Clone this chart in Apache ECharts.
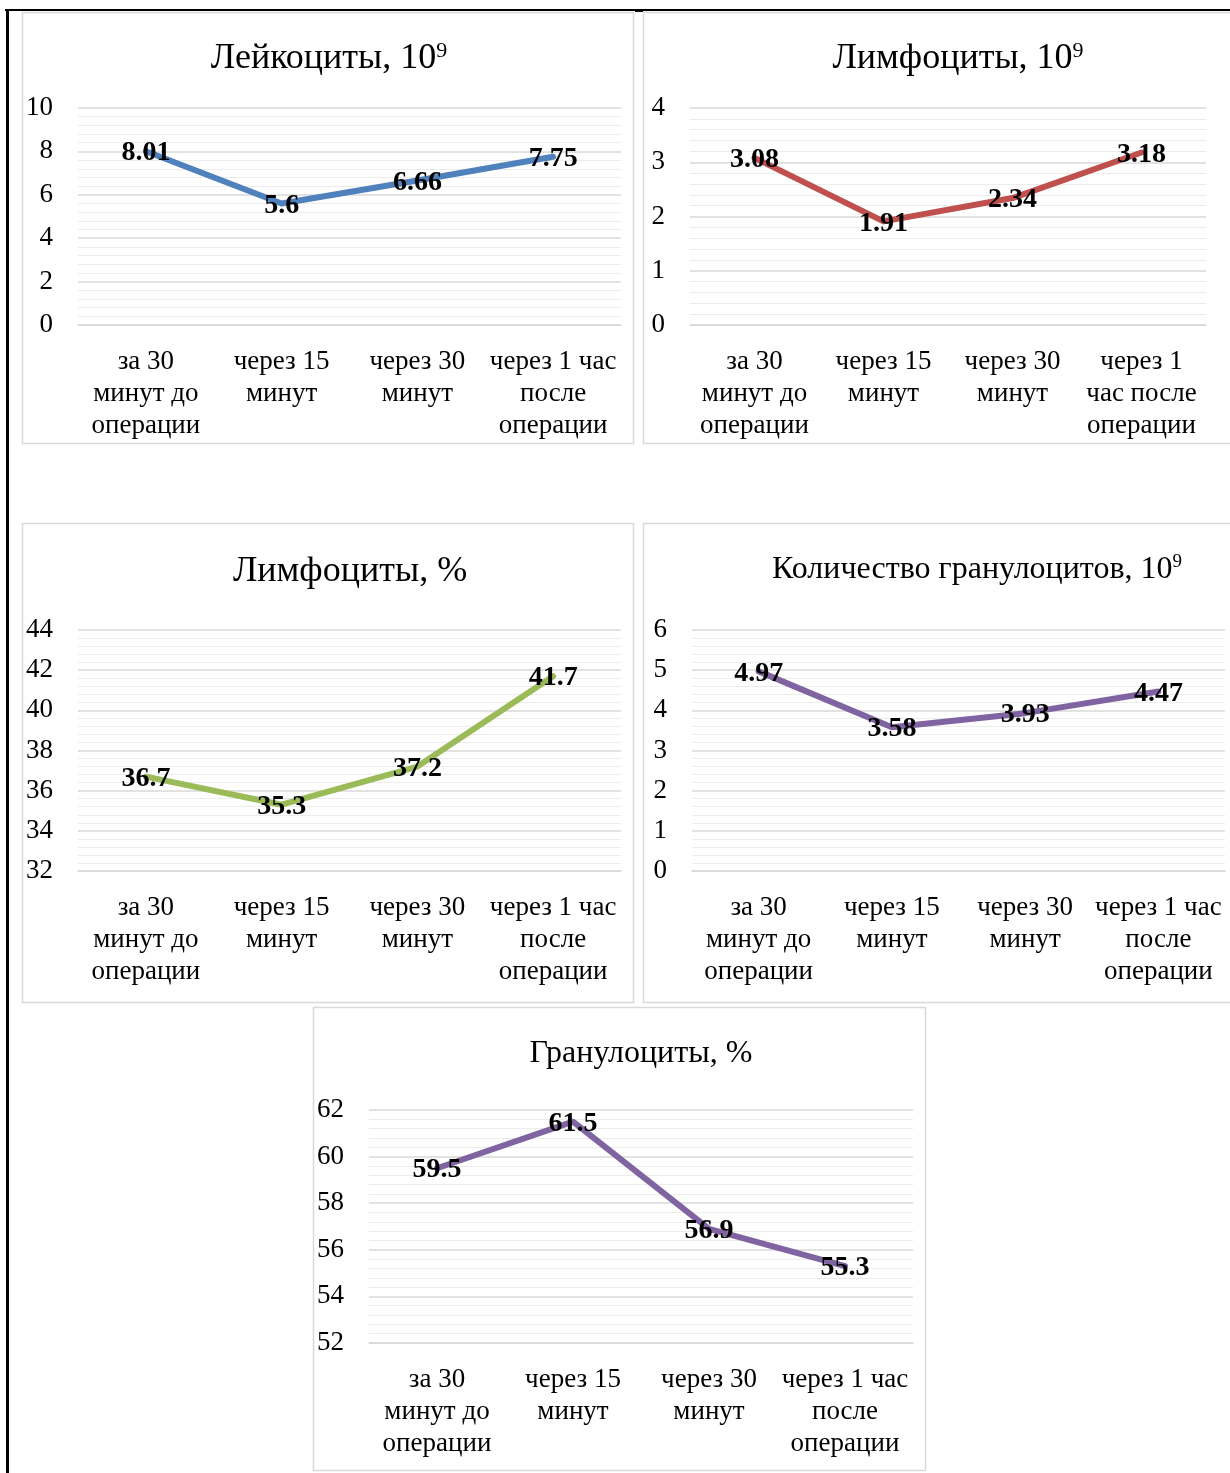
<!DOCTYPE html>
<html>
<head>
<meta charset="utf-8">
<script src="https://cdn.jsdelivr.net/npm/echarts@6/dist/echarts.min.js"></script>
<style>
  html, body { margin: 0; padding: 0; background: #fff; }
  #chart { width: 1230px; height: 1473px; }
</style>
</head>
<body>
<div id="chart"></div>
<script>
// Time points (wrapped the way each panel shows them)
const categories = ['за 30\nминут до\nоперации', 'через 15\nминут', 'через 30\nминут', 'через 1 час\nпосле\nоперации'];
const categoriesNarrow = ['за 30\nминут до\nоперации', 'через 15\nминут', 'через 30\nминут', 'через 1\nчас после\nоперации'];

// Measured values per indicator
const leukocytes = [8.01, 5.6, 6.66, 7.75];
const lymphocytesAbs = [3.08, 1.91, 2.34, 3.18];
const lymphocytesPct = [36.7, 35.3, 37.2, 41.7];
const granulocytesAbs = [4.97, 3.58, 3.93, 4.47];
const granulocytesPct = [59.5, 61.5, 56.9, 55.3];

// Value axis ranges: [min, max, interval]
const leukocyteTicks = [0, 10, 2];
const lymphAbsTicks = [0, 4, 1];
const lymphPctTicks = [32, 44, 2];
const granAbsTicks = [0, 6, 1];
const granPctTicks = [52, 62, 2];

const FONT = '"Liberation Serif", "Times New Roman", serif';

const panels = [
  { title: 'Лейкоциты, 10', sup: '9', tx: 329, ty: 59, cats: categories, data: leukocytes, ticks: leukocyteTicks, color: '#4f81bd',
    grid: { left: 78, top: 108, width: 543, height: 217 }, box: [22, 12, 611, 431], titleSize: 36 },
  { title: 'Лимфоциты, 10', sup: '9', tx: 958, ty: 59, cats: categoriesNarrow, data: lymphocytesAbs, ticks: lymphAbsTicks, color: '#c0504d',
    grid: { left: 690, top: 108, width: 516, height: 217 }, box: [643, 12, 620, 431], titleSize: 36 },
  { title: 'Лимфоциты, %', sup: '', tx: 350, ty: 572, cats: categories, data: lymphocytesPct, ticks: lymphPctTicks, color: '#9bbb59',
    grid: { left: 78, top: 630, width: 543, height: 241 }, box: [22, 523, 611, 479], titleSize: 36 },
  { title: 'Количество гранулоцитов, 10', sup: '9', tx: 977, ty: 570, cats: categories, data: granulocytesAbs, ticks: granAbsTicks, color: '#8064a2',
    grid: { left: 692, top: 630, width: 533, height: 241 }, box: [643, 523, 620, 479], titleSize: 32 },
  { title: 'Гранулоциты, %', sup: '', tx: 641, ty: 1054, cats: categories, data: granulocytesPct, ticks: granPctTicks, color: '#8064a2',
    grid: { left: 369, top: 1110, width: 544, height: 233 }, box: [313, 1007, 612, 463], titleSize: 32 }
];

const grids = [], xAxes = [], yAxes = [], series = [], graphics = [];

// page frame lines
graphics.push({ type: 'rect', shape: { x: 5, y: 9, width: 1225, height: 2 }, style: { fill: '#000' }, silent: true });
graphics.push({ type: 'rect', shape: { x: 6, y: 9, width: 3, height: 1464 }, style: { fill: '#000' }, silent: true });
graphics.push({ type: 'rect', shape: { x: 635, y: 9, width: 8, height: 3 }, style: { fill: '#000' }, silent: true });

panels.forEach((p, i) => {
  graphics.push({
    type: 'rect', z: -1, silent: true,
    shape: { x: p.box[0] + 0.5, y: p.box[1] + 0.5, width: p.box[2], height: p.box[3] },
    style: { fill: '#fff', stroke: '#d9d9d9', lineWidth: 1.5 }
  });
  graphics.push({
    type: 'text', silent: true, x: p.tx, y: p.ty,
    style: {
      text: '{t|' + p.title + '}' + (p.sup ? '{s|' + p.sup + '}' : ''),
      align: 'center', verticalAlign: 'middle',
      rich: {
        t: { fontFamily: FONT, fontSize: p.titleSize, fill: '#000', lineHeight: p.titleSize + 2 },
        s: { fontFamily: FONT, fontSize: Math.round(p.titleSize * 0.6), fill: '#000', verticalAlign: 'top' }
      }
    }
  });

  grids.push(Object.assign({ containLabel: false }, p.grid));
  xAxes.push({
    type: 'category', gridIndex: i, data: p.cats, boundaryGap: true,
    axisLine: { show: true, lineStyle: { color: '#d9d9d9', width: 1.5 } },
    axisTick: { show: false },
    axisLabel: { fontFamily: FONT, fontSize: 27, color: '#000', lineHeight: 32, margin: 21, interval: 0 }
  });
  yAxes.push({
    type: 'value', gridIndex: i, min: p.ticks[0], max: p.ticks[1], interval: p.ticks[2],
    axisLine: { show: false }, axisTick: { show: false },
    axisLabel: { fontFamily: FONT, fontSize: 27, color: '#000', margin: 25, padding: [4, 0, 0, 0] },
    splitLine: { show: true, lineStyle: { color: '#d9d9d9', width: 1.5 } },
    minorTick: { show: false, splitNumber: 5 },
    minorSplitLine: { show: true, lineStyle: { color: '#ececec', width: 1.2 } }
  });
  series.push({
    type: 'line', xAxisIndex: i, yAxisIndex: i, data: p.data,
    symbol: 'circle', symbolSize: 1, showSymbol: true,
    lineStyle: { color: p.color, width: 6, cap: 'round', join: 'round' },
    itemStyle: { color: p.color },
    label: {
      show: true, position: 'inside', offset: [0, 2], fontFamily: FONT, fontSize: 28, fontWeight: 'bold', color: '#000',
      formatter: (d) => String(d.value)
    },
    emphasis: { disabled: true },
    animation: false
  });
});

const chart = echarts.init(document.getElementById('chart'), null, { renderer: 'canvas' });
chart.setOption({
  animation: false,
  backgroundColor: '#fff',
  grid: grids, xAxis: xAxes, yAxis: yAxes, series: series,
  graphic: graphics
});
</script>
</body>
</html>
